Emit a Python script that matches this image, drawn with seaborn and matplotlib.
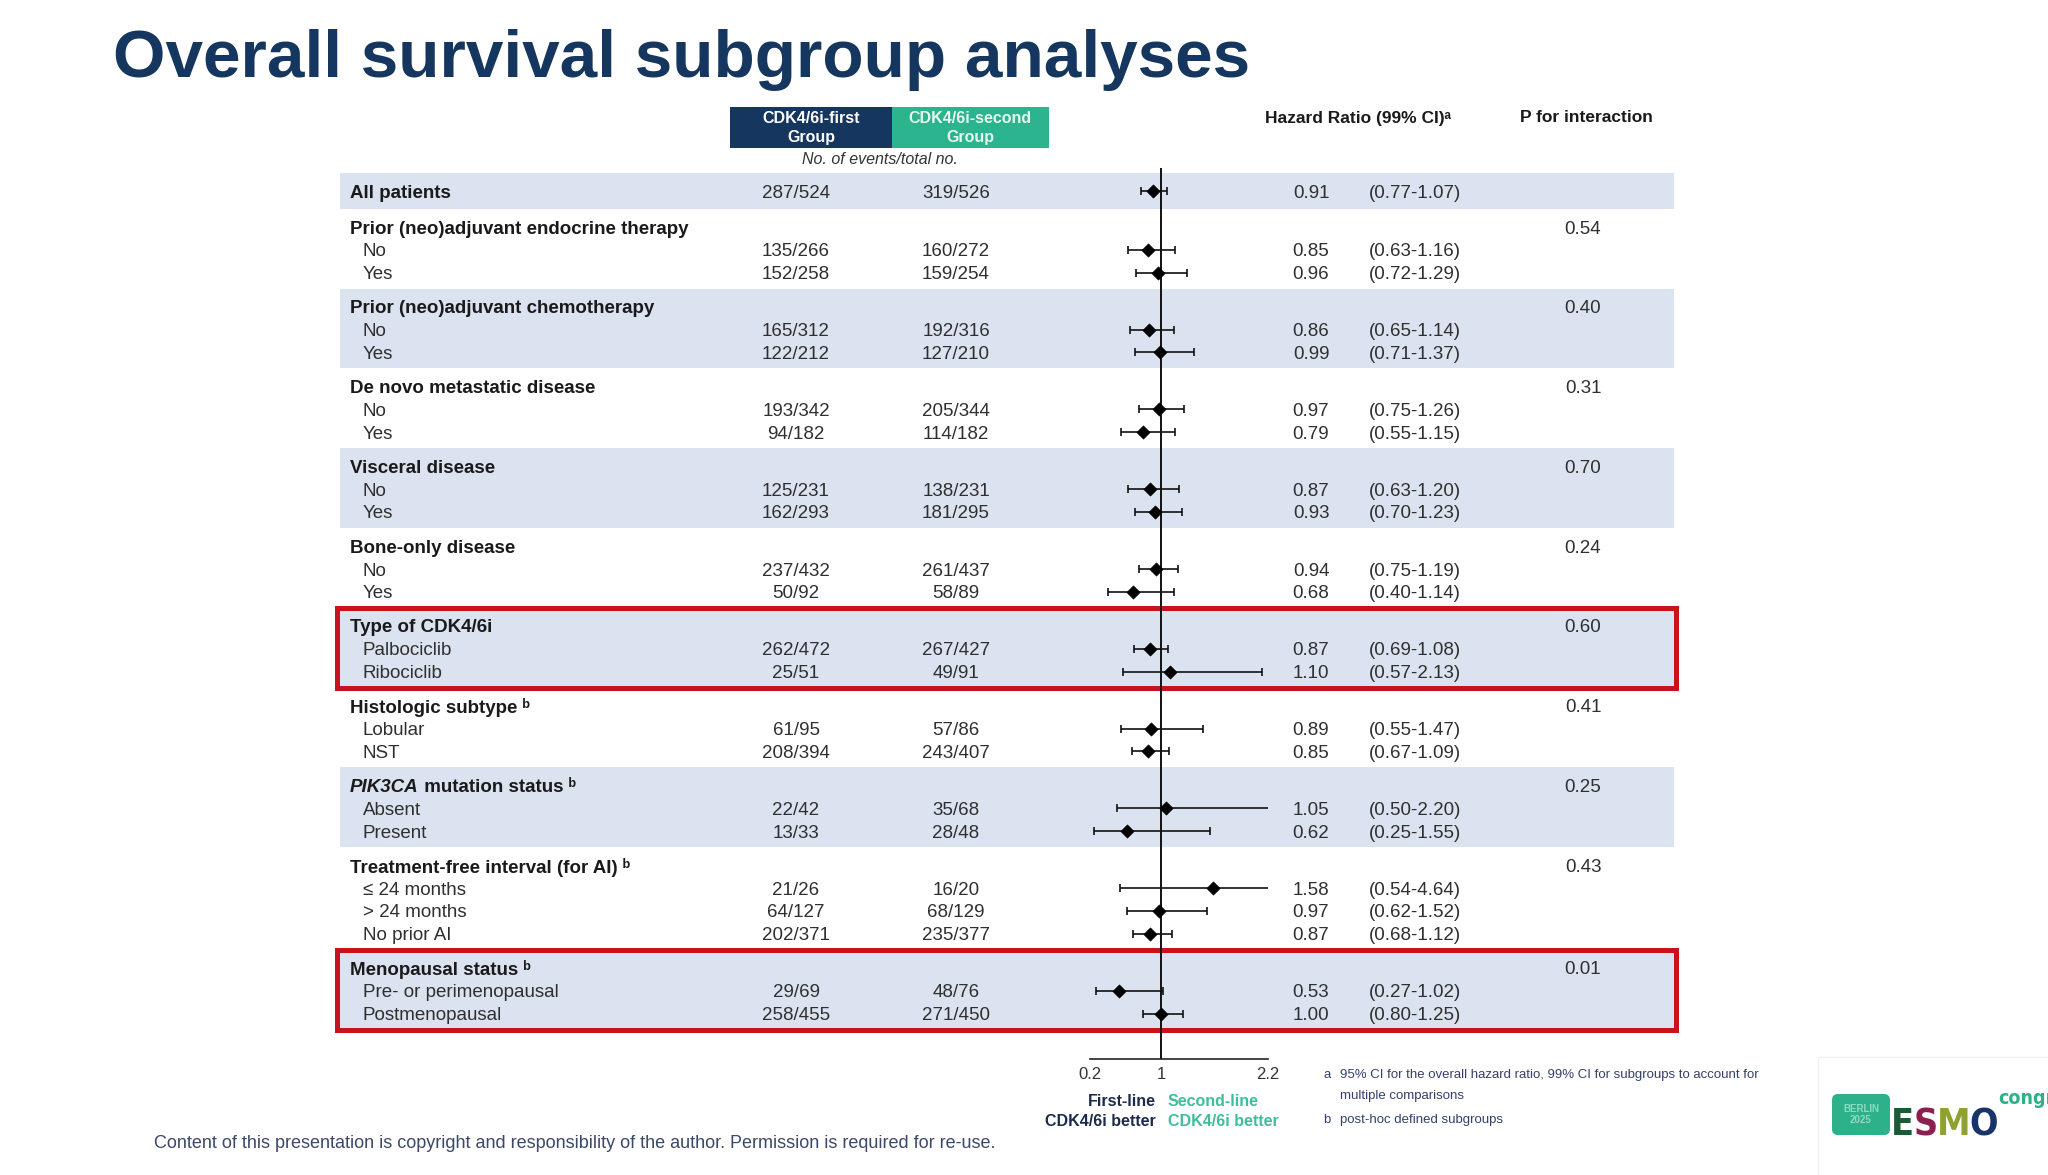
import matplotlib
matplotlib.use("Agg")
import matplotlib.pyplot as plt
from matplotlib import font_manager
from matplotlib.font_manager import FontProperties
from matplotlib.patches import Rectangle, FancyBboxPatch
import seaborn as sns
import pandas as pd

# ---- data ----
group_names = ["Prior (neo)adjuvant endocrine therapy", "Prior (neo)adjuvant chemotherapy",
               "De novo metastatic disease", "Visceral disease", "Bone-only disease",
               "Type of CDK4/6i", "Histologic subtype", "PIK3CA mutation status",
               "Treatment-free interval (for AI)", "Menopausal status"]
group_levels = [["No", "Yes"], ["No", "Yes"], ["No", "Yes"], ["No", "Yes"], ["No", "Yes"],
                ["Palbociclib", "Ribociclib"], ["Lobular", "NST"], ["Absent", "Present"],
                ["≤ 24 months", "> 24 months", "No prior AI"],
                ["Pre- or perimenopausal", "Postmenopausal"]]
group_note = ["", "", "", "", "", "", "ᵇ", "ᵇ", "ᵇ", "ᵇ"]
p_interaction = ["0.54", "0.40", "0.31", "0.70", "0.24", "0.60", "0.41", "0.25", "0.43", "0.01"]
highlight_groups = ["Type of CDK4/6i", "Menopausal status"]

# first row is "All patients", then the subgroup rows in order
events_first = ["287/524", "135/266", "152/258", "165/312", "122/212", "193/342", "94/182",
                "125/231", "162/293", "237/432", "50/92", "262/472", "25/51", "61/95",
                "208/394", "22/42", "13/33", "21/26", "64/127", "202/371", "29/69", "258/455"]
events_second = ["319/526", "160/272", "159/254", "192/316", "127/210", "205/344", "114/182",
                 "138/231", "181/295", "261/437", "58/89", "267/427", "49/91", "57/86",
                 "243/407", "35/68", "28/48", "16/20", "68/129", "235/377", "48/76", "271/450"]
hazard_ratio = [0.91, 0.85, 0.96, 0.86, 0.99, 0.97, 0.79, 0.87, 0.93, 0.94, 0.68,
                0.87, 1.10, 0.89, 0.85, 1.05, 0.62, 1.58, 0.97, 0.87, 0.53, 1.00]
ci_lower = [0.77, 0.63, 0.72, 0.65, 0.71, 0.75, 0.55, 0.63, 0.70, 0.75, 0.40,
            0.69, 0.57, 0.55, 0.67, 0.50, 0.25, 0.54, 0.62, 0.68, 0.27, 0.80]
ci_upper = [1.07, 1.16, 1.29, 1.14, 1.37, 1.26, 1.15, 1.20, 1.23, 1.19, 1.14,
            1.08, 2.13, 1.47, 1.09, 2.20, 1.55, 4.64, 1.52, 1.12, 1.02, 1.25]
x_ticks = [0.2, 1, 2.2]
x_ticklabels = ["0.2", "1", "2.2"]

# ---- style ----
sns.set_style("white")
plt.rcParams["font.family"] = ["Liberation Sans", "DejaVu Sans"]


def find_condensed_bold():
    # any installed narrow / condensed bold sans face, if there is one
    for f in font_manager.fontManager.ttflist:
        narrow = ("Narrow" in f.name or "Condensed" in f.name
                  or f.stretch in ("condensed", "semi-condensed", "extra-condensed"))
        w = f.weight if isinstance(f.weight, int) else font_manager.weight_dict.get(f.weight, 400)
        if narrow and w >= 600 and f.style == "normal":
            return f.fname
    return None


COND_BOLD = find_condensed_bold()


def cond_bold(size, fallback):
    if COND_BOLD:
        return {"fontproperties": FontProperties(fname=COND_BOLD, size=size)}
    return {"fontsize": fallback, "weight": "bold"}


NAVY = "#15365f"
TEAL = "#2bb48d"
BAND = "#dbe3f1"
RED = "#c8121d"
TXT = "#1a1a1a"
SUB = "#2f2f2f"
FS = 13.5
DY = 2  # text sits a touch lower than the row centre

W, H = 2048, 1175
fig = plt.figure(figsize=(W / 100, H / 100), dpi=100)
bg = fig.add_axes([0, 0, 1, 1])
bg.set_xlim(0, W)
bg.set_ylim(H, 0)
bg.axis("off")

# row positions (pixel rows of the slide)
ROW = 22.8
y_all = 191
rows_y = [y_all]
header_y = []
cursor = 227
for levels in group_levels:
    header_y.append(cursor)
    for i in range(len(levels)):
        rows_y.append(cursor + ROW * (i + 1))
    cursor += ROW * (len(levels) + 1.5)

BX0, BX1 = 340, 1674
bg.add_patch(Rectangle((BX0, y_all - 0.8 * ROW), BX1 - BX0, 1.6 * ROW, fc=BAND, lw=0, zorder=0))
for k, (name, levels) in enumerate(zip(group_names, group_levels)):
    top = header_y[k] - 0.8 * ROW
    bottom = header_y[k] + (len(levels) + 0.7) * ROW
    if k % 2 == 1:
        bg.add_patch(Rectangle((BX0, top), BX1 - BX0, bottom - top, fc=BAND, lw=0, zorder=0))
    if name in highlight_groups:
        bg.add_patch(Rectangle((337, top), 1676 - 337, bottom - top, fill=False,
                               ec=RED, lw=3.6, zorder=5))

# ---- title and header ----
bg.text(113, 77, "Overall survival subgroup analyses", color=NAVY, weight="bold",
        va="baseline", fontsize=48.6)

bg.add_patch(Rectangle((730, 107), 162, 41, fc=NAVY, lw=0))
bg.add_patch(Rectangle((892, 107), 157, 41, fc=TEAL, lw=0))
bg.text(811, 128, "CDK4/6i-first\nGroup", ha="center", va="center", color="white",
        weight="bold", fontsize=11.5, linespacing=1.3)
bg.text(970, 128, "CDK4/6i-second\nGroup", ha="center", va="center", color="#e6f7f1",
        weight="bold", fontsize=11.5, linespacing=1.3)
bg.text(880, 160, "No. of events/total no.", ha="center", va="center", style="italic",
        fontsize=11.5, color="#333333")
bg.text(1358, 118, "Hazard Ratio (99% CI)ᵃ", ha="center", va="center", weight="bold",
        fontsize=12.5, color=TXT)
bg.text(1586, 118, "P for interaction", ha="center", va="center", weight="bold",
        fontsize=12.5, color=TXT)

# ---- table text ----
renderer = fig.canvas.get_renderer()
bg.text(350, y_all + DY, "All patients", weight="bold", fontsize=FS, va="center", color=TXT)
row_labels = []
gene = "PIK3CA"
for k, (name, levels) in enumerate(zip(group_names, group_levels)):
    label = name + (" " + group_note[k] if group_note[k] else "")
    yk = header_y[k] + DY
    if name.startswith(gene):
        t = bg.text(350, yk, gene, weight="bold", style="italic", fontsize=FS,
                    va="center", color=TXT)
        x_end = t.get_window_extent(renderer).x1
        bg.text(x_end, yk, label[len(gene):], weight="bold", fontsize=FS,
                va="center", color=TXT)
    else:
        bg.text(350, yk, label, weight="bold", fontsize=FS, va="center", color=TXT)
    bg.text(1583, yk, p_interaction[k], ha="center", va="center", fontsize=FS, color=SUB)
    row_labels.extend(levels)

for i, y in enumerate(rows_y):
    yt = y + DY
    if i > 0:
        bg.text(363, yt, row_labels[i - 1], fontsize=FS, va="center", color=SUB)
    bg.text(796, yt, events_first[i], ha="center", va="center", fontsize=FS, color=SUB)
    bg.text(956, yt, events_second[i], ha="center", va="center", fontsize=FS, color=SUB)
    bg.text(1311, yt, f"{hazard_ratio[i]:.2f}", ha="center", va="center", fontsize=FS, color=SUB)
    bg.text(1369, yt, f"({ci_lower[i]:.2f}-{ci_upper[i]:.2f})", ha="left", va="center",
            fontsize=FS, color=SUB)

# ---- forest panel ----
AX_X0, AX_X1 = 1090, 1268
AX_TOP, AX_BOT = 168, 1059
fa = fig.add_axes([AX_X0 / W, 1 - AX_BOT / H, (AX_X1 - AX_X0) / W, (AX_BOT - AX_TOP) / H])
fa.patch.set_alpha(0)

df = pd.DataFrame({"hr": hazard_ratio, "lo": ci_lower, "hi": ci_upper, "y": rows_y})
xmin, xmax = x_ticks[0], x_ticks[-1]
fa.axvline(1, color="#111111", lw=1.4, zorder=1)
fa.hlines(df["y"], df["lo"].clip(lower=xmin), df["hi"].clip(upper=xmax),
          color="#111111", lw=1.2, zorder=2)
for lo, hi, y in zip(df["lo"], df["hi"], df["y"]):
    if lo > xmin:
        fa.vlines(lo, y - 4, y + 4, color="#111111", lw=1.2)
    if hi < xmax:
        fa.vlines(hi, y - 4, y + 4, color="#111111", lw=1.2)
sns.scatterplot(data=df, x="hr", y="y", marker="D", s=46, color="black", edgecolor="black",
                linewidth=0.4, ax=fa, zorder=4, legend=False)

fa.set_xlim(xmin, xmax)
fa.set_ylim(AX_BOT, AX_TOP)
fa.set_xlabel("")
fa.set_ylabel("")
fa.set_yticks([])
fa.set_xticks(x_ticks)
fa.set_xticklabels(x_ticklabels)
fa.tick_params(axis="x", length=0, pad=6, labelsize=12, colors="#333333")
for s in ["top", "left", "right"]:
    fa.spines[s].set_visible(False)
fa.spines["bottom"].set_color("#222222")
fa.spines["bottom"].set_linewidth(1.2)

# ---- favours labels, footnotes, footer ----
bg.text(1156, 1101, "First-line", ha="right", va="center", weight="bold", fontsize=11.5, color="#1b2b4d")
bg.text(1156, 1121, "CDK4/6i better", ha="right", va="center", weight="bold", fontsize=11.5, color="#1b2b4d")
bg.text(1168, 1101, "Second-line", ha="left", va="center", weight="bold", fontsize=11.5, color="#3dbf9c")
bg.text(1168, 1121, "CDK4/6i better", ha="left", va="center", weight="bold", fontsize=11.5, color="#3dbf9c")

NOTE = "#34406a"
NFS = 9.5
bg.text(1323, 1075, "a", va="center", fontsize=NFS, color=NOTE)
bg.text(1340, 1075, "95% CI for the overall hazard ratio, 99% CI for subgroups to account for",
        va="center", fontsize=NFS, color=NOTE)
bg.text(1340, 1096, "multiple comparisons", va="center", fontsize=NFS, color=NOTE)
bg.text(1323, 1120, "b", va="center", fontsize=NFS, color=NOTE)
bg.text(1340, 1120, "post-hoc defined subgroups", va="center", fontsize=NFS, color=NOTE)

bg.text(154, 1144, "Content of this presentation is copyright and responsibility of the author. "
        "Permission is required for re-use.", va="center", fontsize=13, color="#3b4869")

# ---- congress logo ----
bg.add_patch(Rectangle((1818, 1057), 300, 200, fc="white", ec="#f1f1f1", lw=1.0, zorder=0))
bg.add_patch(FancyBboxPatch((1832, 1094), 58, 41, boxstyle="round,pad=0,rounding_size=6",
                            fc="#2db18a", lw=0, zorder=1))
bg.text(1861, 1114.5, "BERLIN\n2025", ha="center", va="center", weight="bold", fontsize=7,
        color="#8fdac0", linespacing=1.1)
x_letter = 1891
for letter, col in zip("ESMO", ["#1c5a36", "#8c1f4f", "#8fa12e", "#17356b"]):
    t = bg.text(x_letter, 1135, letter, ha="left", va="baseline", color=col,
                **cond_bold(27, 25))
    x_letter = t.get_window_extent(renderer).x1 - 1
bg.text(x_letter + 2, 1104, "congress", ha="left", va="baseline", color="#2db18a",
        **cond_bold(14, 13))

fig.savefig("out.png", dpi=100)
